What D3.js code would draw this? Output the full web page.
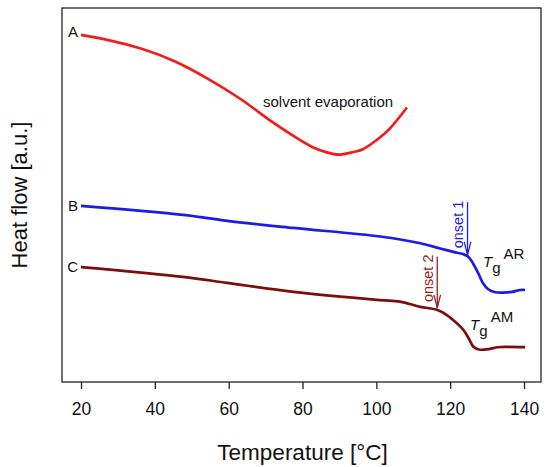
<!DOCTYPE html>
<html>
<head>
<meta charset="utf-8">
<script src="https://cdn.jsdelivr.net/npm/d3@7"></script>
<style>
  body { margin: 0; background: #fff; }
  text { font-family: "Liberation Sans", Arial, sans-serif; fill: #111; }
</style>
</head>
<body>
<div id="chart"></div>
<script>
// Curve data (heat flow in arbitrary units)
const tempsA = [20, 27.4, 36.4, 45.5, 54.5, 63.6, 71.7, 78.5, 82.9, 86.6, 90.2, 93.8, 96.5, 100.1, 103.7, 108.3];
const heatA  = [92.8, 91.4, 89.1, 85.7, 81.0, 75.4, 69.6, 65.2, 62.7, 61.4, 60.8, 61.5, 62.3, 64.7, 67.8, 73.4];

const tempsB = [20, 47.6, 59.6, 77.5, 101, 111.9, 117.3, 120.8, 123.5, 124.9, 126.2, 127.6, 128.9, 130.3, 132.2, 134.4, 136.8, 139, 140.3];
const heatB  = [47.1, 44.7, 43.1, 41.2, 38.9, 37.1, 35.7, 34.8, 34.2, 33.5, 31.7, 29.1, 26.4, 24.8, 24.0, 23.9, 24.1, 24.6, 24.6];

const tempsC = [20, 47.6, 59.6, 77.5, 101, 106.4, 111.9, 116.4, 119.1, 121.8, 123.6, 125, 126.3, 127.7, 129.9, 132.7, 135.4, 140.3];
const heatC  = [30.7, 28.1, 26.5, 24.1, 21.9, 21.5, 20.1, 19.3, 17.9, 15.7, 13.9, 11.7, 9.4, 8.7, 8.7, 9.3, 9.4, 9.3];

const seriesNames = ["A", "B", "C"];
const seriesColors = ["#f21c1c", "#1c1ce8", "#7d0d0d"];
const xTicks = [20, 40, 60, 80, 100, 120, 140];

// onset arrows: temperature, top and tip of the arrow (a.u.)
const onsetLabels = ["onset 1", "onset 2"];
const onsetTemps = [124.7, 116.5];
const onsetTop = [48.1, 33.5];
const onsetTip = [34.0, 19.8];
const onsetColors = ["#2020e0", "#952020"];

// glass transition labels
const tgSup = ["AR", "AM"];
const tgTemps = [128.9, 125.4];
const tgHeat = [30.7, 13.9];

const width = 550, height = 467;
const plot = { left: 62, top: 8, right: 541, bottom: 382 };

const svg = d3.select("#chart")
    .append("svg")
    .attr("width", width)
    .attr("height", height);

const x = d3.scaleLinear()
    .domain([14.85, 144.6])
    .range([plot.left, plot.right]);

const y = d3.scaleLinear()
    .domain([0, 100])
    .range([plot.bottom, plot.top]);

// frame
svg.append("rect")
    .attr("x", plot.left)
    .attr("y", plot.top)
    .attr("width", plot.right - plot.left)
    .attr("height", plot.bottom - plot.top)
    .attr("fill", "none")
    .attr("stroke", "#222")
    .attr("stroke-width", 1.3);

// x axis
const xAxis = svg.append("g")
    .attr("transform", `translate(0,${plot.bottom})`)
    .call(d3.axisBottom(x).tickValues(xTicks).tickSizeInner(7).tickSizeOuter(0).tickPadding(13.5));
xAxis.select(".domain").remove();
xAxis.selectAll(".tick line").attr("stroke", "#222").attr("stroke-width", 1.3);
xAxis.selectAll(".tick text")
    .style("font-family", "'Liberation Sans', Arial, sans-serif")
    .style("font-size", "17.5px")
    .attr("fill", "#111");

// axis titles
svg.append("text")
    .attr("x", (plot.left + plot.right) / 2 + 1)
    .attr("y", 460)
    .attr("text-anchor", "middle")
    .style("font-size", "22.5px")
    .text("Temperature [°C]");

svg.append("text")
    .attr("transform", `translate(26.7,${(plot.top + plot.bottom) / 2}) rotate(-90)`)
    .attr("text-anchor", "middle")
    .style("font-size", "22px")
    .text("Heat flow [a.u.]");

// curves (A is a smooth broad dip, B and C have sharp knees)
const smoothLine = d3.line()
    .x(d => x(d[0]))
    .y(d => y(d[1]))
    .curve(d3.curveNatural);

const kneeLine = d3.line()
    .x(d => x(d[0]))
    .y(d => y(d[1]))
    .curve(d3.curveCatmullRom.alpha(0.5));

const series = [
    d3.zip(tempsA, heatA),
    d3.zip(tempsB, heatB),
    d3.zip(tempsC, heatC)
];
const labelDy = [-3.5, 0, 0];

series.forEach((pts, i) => {
    svg.append("path")
        .datum(pts)
        .attr("d", i === 0 ? smoothLine : kneeLine)
        .attr("fill", "none")
        .attr("stroke", seriesColors[i])
        .attr("stroke-width", 2.7)
        .attr("stroke-linejoin", "round");

    svg.append("text")
        .attr("x", x(pts[0][0]) - 3)
        .attr("y", y(pts[0][1]) + labelDy[i])
        .attr("dy", "0.35em")
        .attr("text-anchor", "end")
        .style("font-size", "15px")
        .text(seriesNames[i]);
});

svg.append("text")
    .attr("x", x(69.3))
    .attr("y", y(73.6))
    .style("font-size", "15px")
    .text("solvent evaporation");

// onset arrows
onsetLabels.forEach((label, i) => {
    const ax = x(onsetTemps[i]), y0 = y(onsetTop[i]), y1 = y(onsetTip[i]);
    const g = svg.append("g").attr("stroke", onsetColors[i]).attr("stroke-width", 1.3).attr("fill", "none");
    g.append("line").attr("x1", ax).attr("x2", ax).attr("y1", y0).attr("y2", y1);
    g.append("polyline").attr("points", `${ax - 3.3},${y1 - 13} ${ax},${y1} ${ax + 3.3},${y1 - 13}`);

    svg.append("text")
        .attr("transform", `translate(${ax - 4.5},${(y0 + y1) / 2 - 4}) rotate(-90)`)
        .attr("text-anchor", "middle")
        .style("font-size", "14.5px")
        .style("fill", onsetColors[i])
        .text(label);
});

// Tg labels
tgSup.forEach((sup, i) => {
    const t = svg.append("text")
        .attr("x", x(tgTemps[i]))
        .attr("y", y(tgHeat[i]))
        .style("font-size", "15px");
    t.append("tspan").style("font-style", "italic").text("T");
    t.append("tspan").attr("dy", 6).text("g");
    t.append("tspan").attr("dx", 3).attr("dy", -14.5).text(sup);
});
</script>
</body>
</html>
